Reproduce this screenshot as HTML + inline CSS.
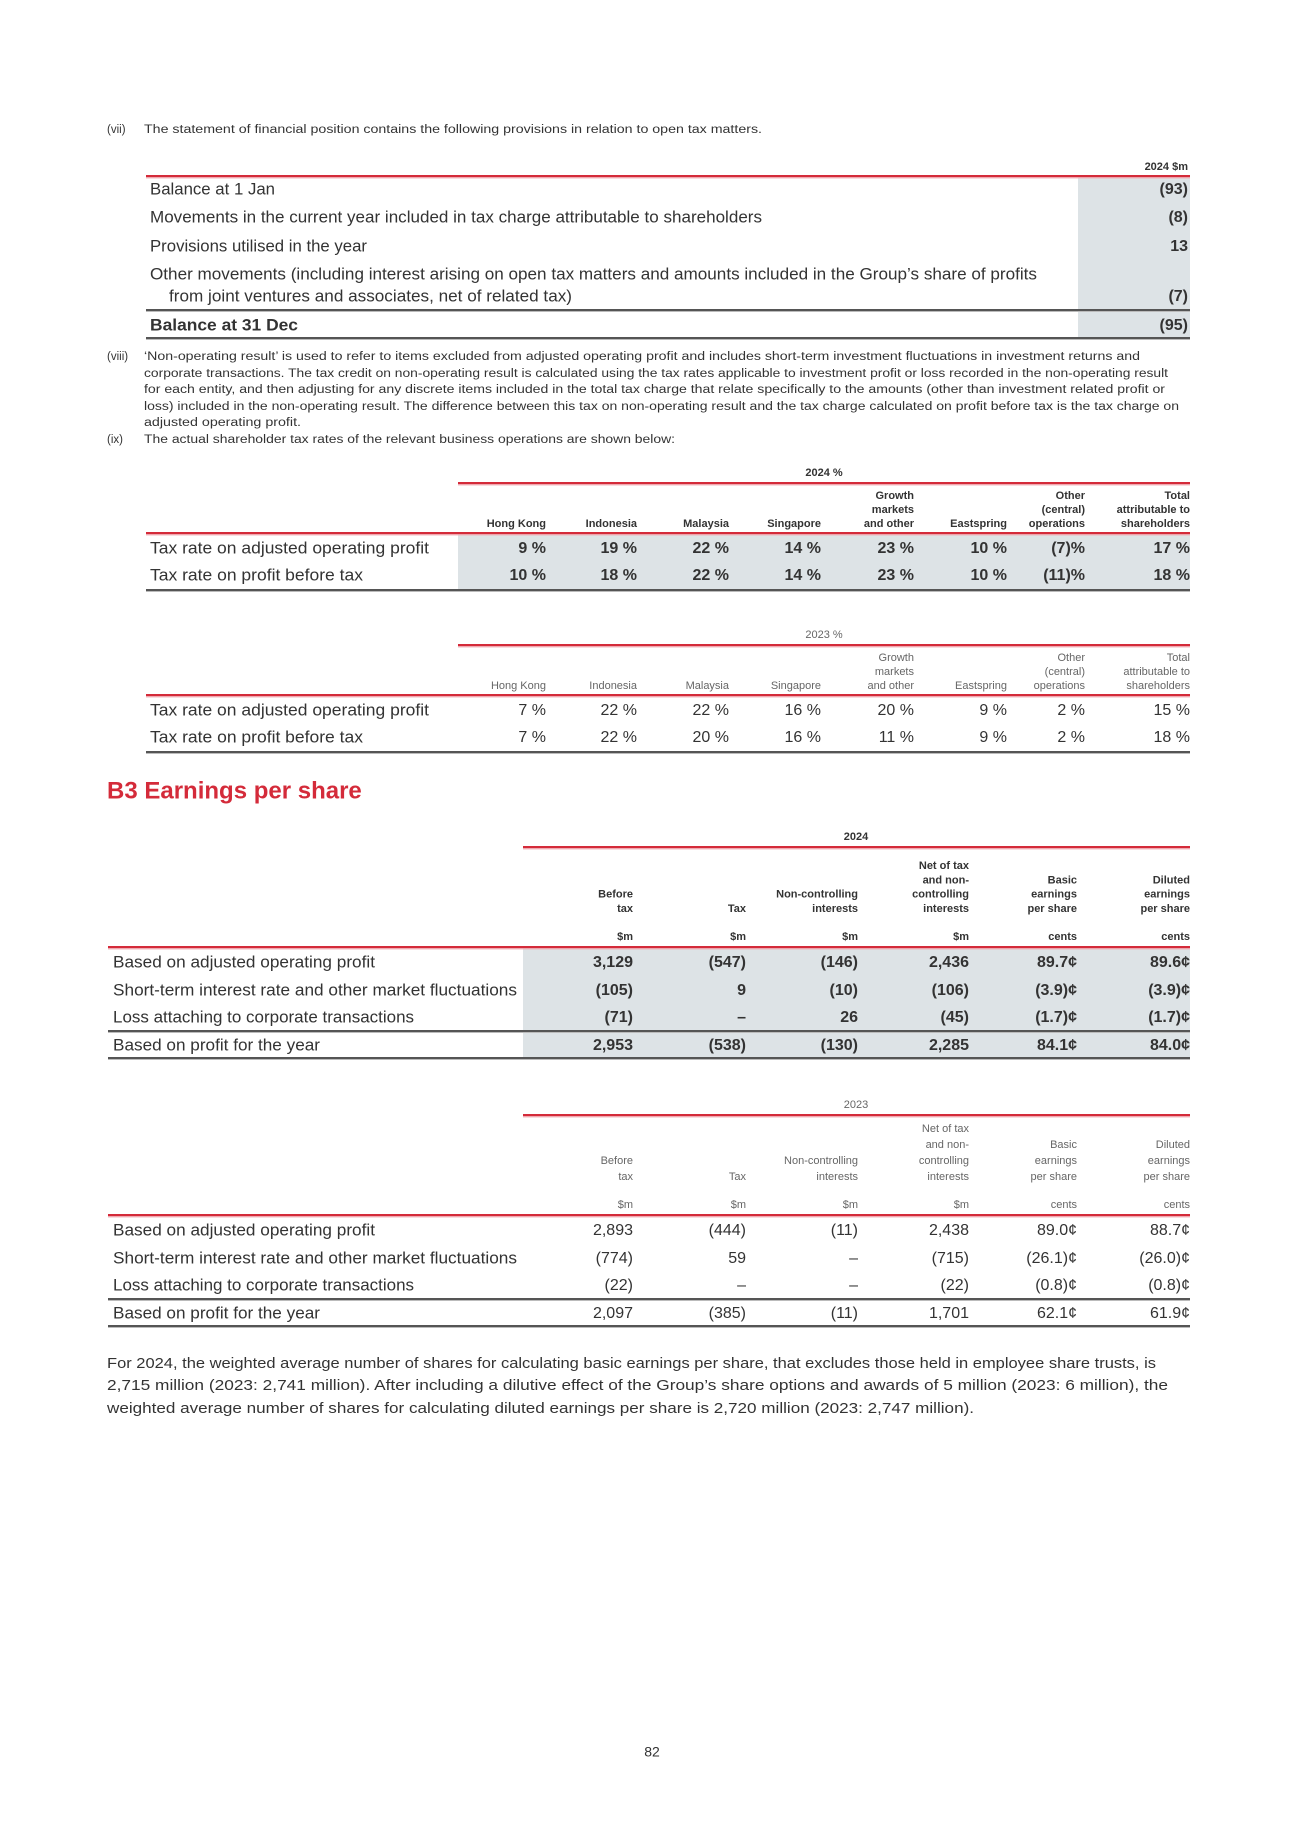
<!DOCTYPE html>
<html><head><meta charset="utf-8"><style>
html,body{margin:0;padding:0;background:#fff;}
svg{display:block;font-family:"Liberation Sans Narrow","Liberation Sans",sans-serif;}
</style></head><body>
<svg id="pg" width="1300" height="1839" viewBox="0 0 1300 1839" xmlns="http://www.w3.org/2000/svg"></svg>
<script>
// ===== data =====
const provLabels=["Balance at 1 Jan","Movements in the current year included in tax charge attributable to shareholders","Provisions utilised in the year","Other movements (including interest arising on open tax matters and amounts included in the Group’s share of profits","Balance at 31 Dec"];
const provValues=["(93)","(8)","13","(7)","(95)"];
const taxCols=[["Hong Kong"],["Indonesia"],["Malaysia"],["Singapore"],["Growth","markets","and other"],["Eastspring"],["Other","(central)","operations"],["Total","attributable to","shareholders"]];
const taxRows=["Tax rate on adjusted operating profit","Tax rate on profit before tax"];
const tax2024a=["9 %","19 %","22 %","14 %","23 %","10 %","(7)%","17 %"];
const tax2024b=["10 %","18 %","22 %","14 %","23 %","10 %","(11)%","18 %"];
const tax2023a=["7 %","22 %","22 %","16 %","20 %","9 %","2 %","15 %"];
const tax2023b=["7 %","22 %","20 %","16 %","11 %","9 %","2 %","18 %"];
const epsCols=[["Before","tax"],["Tax"],["Non-controlling","interests"],["Net of tax","and non-","controlling","interests"],["Basic","earnings","per share"],["Diluted","earnings","per share"]];
const epsUnits=["$m","$m","$m","$m","cents","cents"];
const epsRows=["Based on adjusted operating profit","Short-term interest rate and other market fluctuations","Loss attaching to corporate transactions","Based on profit for the year"];
const eps2024=[["3,129","(547)","(146)","2,436","89.7¢","89.6¢"],["(105)","9","(10)","(106)","(3.9)¢","(3.9)¢"],["(71)","–","26","(45)","(1.7)¢","(1.7)¢"],["2,953","(538)","(130)","2,285","84.1¢","84.0¢"]];
const eps2023=[["2,893","(444)","(11)","2,438","89.0¢","88.7¢"],["(774)","59","–","(715)","(26.1)¢","(26.0)¢"],["(22)","–","–","(22)","(0.8)¢","(0.8)¢"],["2,097","(385)","(11)","1,701","62.1¢","61.9¢"]];

// ===== helpers =====
const NS="http://www.w3.org/2000/svg";const svg=document.getElementById('pg');
const RED="#d42b3a",PINK="#f0a8b0",DARK="#555",SHADE="#dde3e6",TXT="#333";
function T(x,y,s,o){o=o||{};const e=document.createElementNS(NS,'text');
e.setAttribute('x',x);e.setAttribute('y',y);e.setAttribute('font-size',o.fs||15);
e.setAttribute('fill',o.c||TXT);e.setAttribute('dominant-baseline','middle');
if(o.a)e.setAttribute('text-anchor',o.a);if(o.b)e.setAttribute('font-weight','bold');
if(o.w){e.setAttribute('textLength',o.w);e.setAttribute('lengthAdjust','spacingAndGlyphs');}
e.textContent=s;


svg.appendChild(e);return e;}
function R(x,y,w,h,f,n){const e=document.createElementNS(NS,'rect');
e.setAttribute('x',x);e.setAttribute('y',y);e.setAttribute('width',w);e.setAttribute('height',h);e.setAttribute('fill',f);


svg.appendChild(e);return e;}
function redLine(x1,x2,y,n){R(x1,y-1,x2-x1,2.2,RED,n||'red-rule');R(x1,y+1.2,x2-x1,1.2,PINK,'red-rule-shadow');}
function darkLine(x1,x2,y,n){R(x1,y-1,x2-x1,2,DARK,n||'dark-rule');R(x1,y+1,x2-x1,1,"#bbb",'dark-rule-shadow');}

// ===== (vii) provisions =====
T(107,130,"(vii)",{fs:11.5,n:'note-vii-marker'});
T(144,130,"The statement of financial position contains the following provisions in relation to open tax matters.",{fs:11.5,w:618,n:'note-vii-text'});
R(1078,177,112,161,SHADE,'provisions-2024-shade');
T(1188,167,"2024 $m",{fs:11,b:1,a:'end',n:'provisions-col-header'});
redLine(146,1190,176,'provisions-header-rule');
const provY=[190,218,247,275,326];
const provW=[125,612,217,887,148];
provLabels.forEach((l,i)=>{
  T(150,provY[i],l,{fs:16.5,b:i==4,w:provW[i],n:'provisions-row-label'});
});
T(169,297,"from joint ventures and associates, net of related tax)",{fs:16.5,w:403,n:'provisions-row-label-cont'});
provValues.forEach((v,i)=>{const y=i==3?297:provY[i];
  T(1188,y,v,{fs:16,b:1,a:'end',n:'provisions-value'});});
darkLine(146,1190,310,'provisions-total-rule');
darkLine(146,1190,338,'provisions-bottom-rule');

// ===== (viii) / (ix) =====
const p8=["‘Non-operating result’ is used to refer to items excluded from adjusted operating profit and includes short-term investment fluctuations in investment returns and",
"corporate transactions. The tax credit on non-operating result is calculated using the tax rates applicable to investment profit or loss recorded in the non-operating result",
"for each entity, and then adjusting for any discrete items included in the total tax charge that relate specifically to the amounts (other than investment related profit or",
"loss) included in the non-operating result. The difference between this tax on non-operating result and the tax charge calculated on profit before tax is the tax charge on",
"adjusted operating profit."];
const p8w=[996,1024,1021,1035,157];const p8y=[357,374,390,407,423];
T(107,357,"(viii)",{fs:11.5,n:'note-viii-marker'});
p8.forEach((s,i)=>T(144,p8y[i],s,{fs:11.5,w:p8w[i],n:'note-viii-text'}));
T(107,440,"(ix)",{fs:11.5,n:'note-ix-marker'});
T(144,440,"The actual shareholder tax rates of the relevant business operations are shown below:",{fs:11.5,w:531,n:'note-ix-text'});

// ===== tax rate tables =====
const taxX=[546,637,729,821,914,1007,1085,1190];
function taxTable(top,title,bold,ra,rb,nm){
  if(bold)R(458,top+61,732,56,SHADE,nm+'-shade');
  T(824,top,title,{fs:11,b:bold,a:'middle',c:bold?TXT:'#666',n:nm+'-title'});
  redLine(458,1190,top+10,nm+'-title-rule');
  taxCols.forEach((c,i)=>{const n=c.length;c.forEach((l,j)=>{
    T(taxX[i],top+51-(n-1-j)*14,l,{fs:11,b:bold,a:'end',c:bold?TXT:'#666',n:nm+'-col-header'});});});
  redLine(146,1190,top+60,nm+'-header-rule');
  T(150,top+76,taxRows[0],{fs:16.5,w:279,n:nm+'-row-label'});
  T(150,top+103,taxRows[1],{fs:16.5,w:213,n:nm+'-row-label'});
  ra.forEach((v,i)=>T(taxX[i],top+76,v,{fs:16,b:bold,a:'end',n:nm+'-value'}));
  rb.forEach((v,i)=>T(taxX[i],top+103,v,{fs:16,b:bold,a:'end',n:nm+'-value'}));
  darkLine(146,1190,top+117,nm+'-bottom-rule');
}
taxTable(473,"2024 %",true,tax2024a,tax2024b,'tax-rate-2024');
taxTable(635,"2023 %",false,tax2023a,tax2023b,'tax-rate-2023');

// ===== B3 =====
T(107,792,"B3 Earnings per share",{fs:24,b:1,c:"#d42b3a",n:'b3-section-heading'});

const epsX=[633,746,858,969,1077,1190];
const epsW=[262,404,301,207];
function epsTable(top,title,bold,data,nm){
  if(bold)R(523,top+111,667,110,SHADE,nm+'-shade');
  const hc=bold?TXT:'#666';
  T(856,top,title,{fs:11,b:bold,a:'middle',c:hc,n:nm+'-title'});
  redLine(523,1190,top+10,nm+'-title-rule');
  const lh=bold?14.3:16;
  epsCols.forEach((c,i)=>{const n=c.length;c.forEach((l,j)=>{
    T(epsX[i],top+72-(n-1-j)*lh,l,{fs:11,b:bold,a:'end',c:hc,n:nm+'-col-header'});});
    T(epsX[i],top+100,epsUnits[i],{fs:11,b:bold,a:'end',c:hc,n:nm+'-unit'});});
  redLine(108,1190,top+110,nm+'-header-rule');
  const ry=[126,154,181,209];
  epsRows.forEach((l,i)=>T(113,top+ry[i],l,{fs:16.5,w:epsW[i],n:nm+'-row-label'}));
  data.forEach((row,i)=>row.forEach((v,j)=>T(epsX[j],top+ry[i],v,{fs:16,b:bold,a:'end',n:nm+'-value'})));
  darkLine(108,1190,top+194,nm+'-total-rule');
  darkLine(108,1190,top+221,nm+'-bottom-rule');
}
epsTable(837,"2024",true,eps2024,'eps-2024');
epsTable(1105,"2023",false,eps2023,'eps-2023');

// ===== final paragraph =====
const fp=["For 2024, the weighted average number of shares for calculating basic earnings per share, that excludes those held in employee share trusts, is",
"2,715 million (2023: 2,741 million). After including a dilutive effect of the Group’s share options and awards of 5 million (2023: 6 million), the",
"weighted average number of shares for calculating diluted earnings per share is 2,720 million (2023: 2,747 million)."];
const fpw=[1049,1061,867];const fpy=[1364,1386,1409];
fp.forEach((s,i)=>T(107,fpy[i],s,{fs:15,w:fpw[i],n:'eps-footnote-text'}));

T(652,1753,"82",{fs:14,a:'middle',n:'page-number'});
</script>
</body></html>
